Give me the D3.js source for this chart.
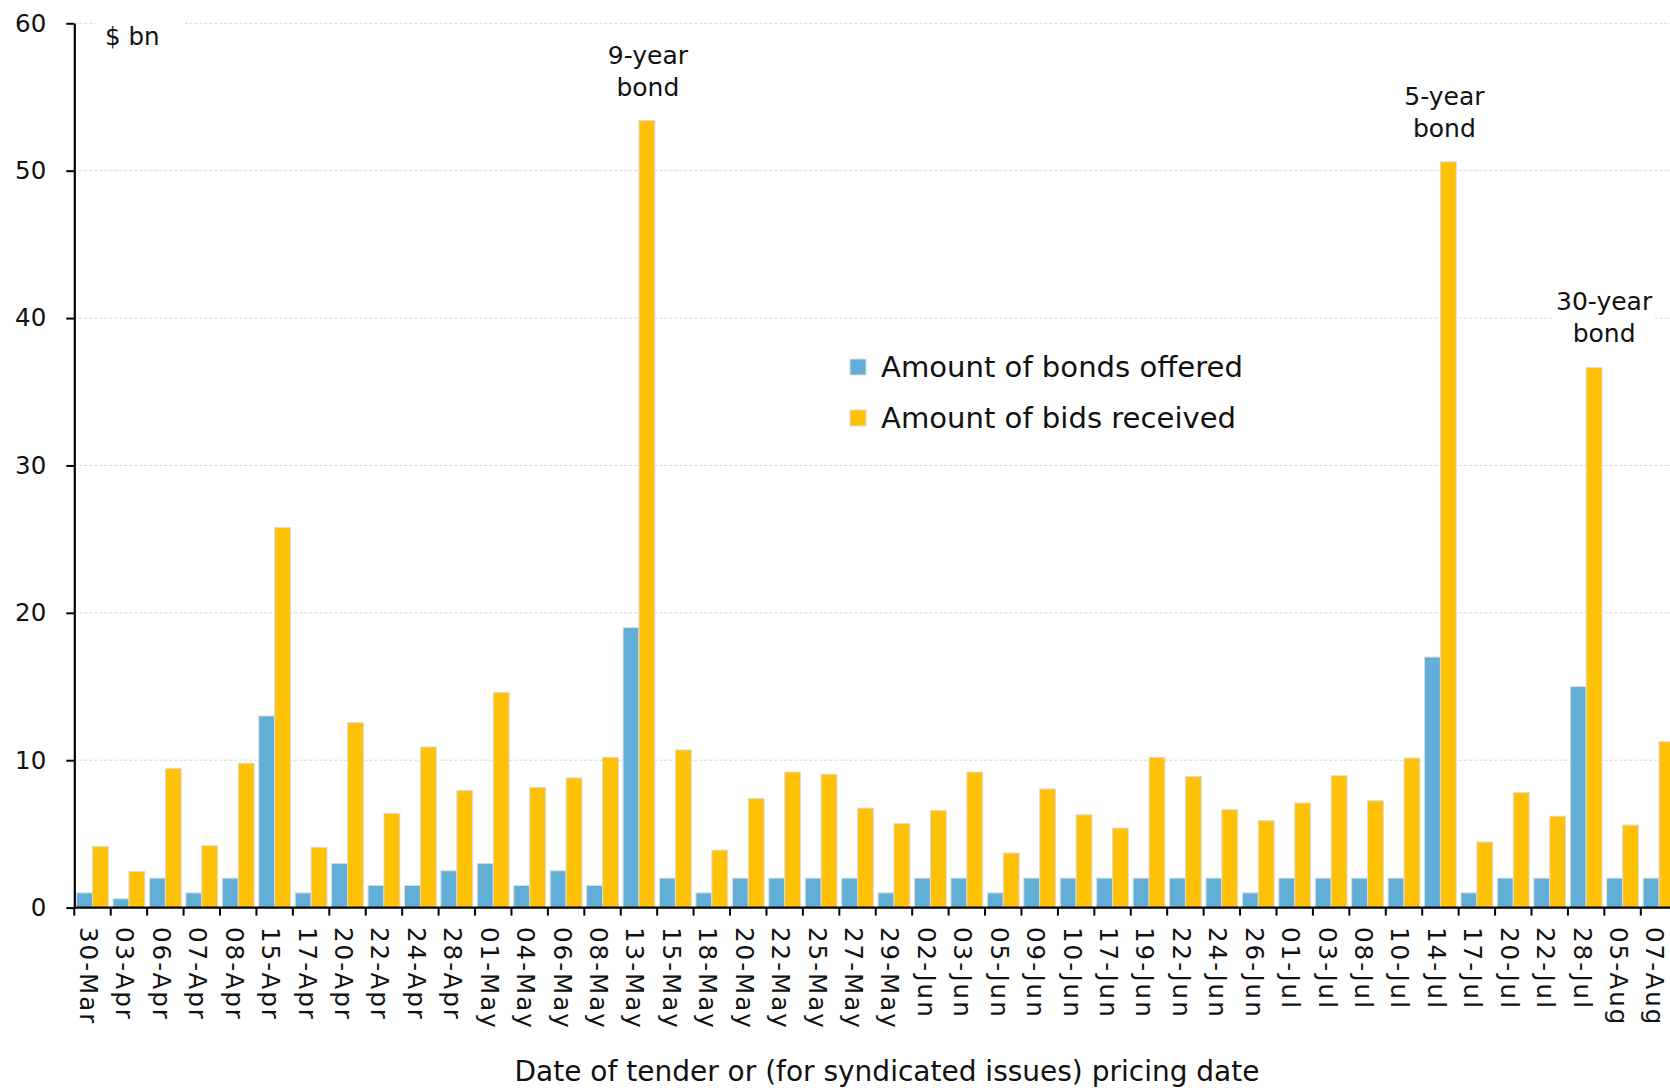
<!DOCTYPE html>
<html>
<head>
<meta charset="utf-8">
<script src="https://cdn.jsdelivr.net/npm/d3@7/dist/d3.min.js"></script>
<style>
  html, body { margin: 0; padding: 0; background: #fff; }
  svg { display: block; font-family: "DejaVu Sans", sans-serif; }
</style>
</head>
<body>
<svg id="chart" width="1670" height="1088"></svg>
<script>
// ---- data ----
const categories = ["30-Mar","03-Apr","06-Apr","07-Apr","08-Apr","15-Apr","17-Apr","20-Apr","22-Apr","24-Apr","28-Apr",
  "01-May","04-May","06-May","08-May","13-May","15-May","18-May","20-May","22-May","25-May","27-May","29-May",
  "02-Jun","03-Jun","05-Jun","09-Jun","10-Jun","17-Jun","19-Jun","22-Jun","24-Jun","26-Jun",
  "01-Jul","03-Jul","08-Jul","10-Jul","14-Jul","17-Jul","20-Jul","22-Jul","28-Jul","05-Aug","07-Aug"];
const bondsOffered = [1,0.6,2,1,2,13,1,3,1.5,1.5,2.5,
  3,1.5,2.5,1.5,19,2,1,2,2,2,2,1,
  2,2,1,2,2,2,2,2,2,1,
  2,2,2,2,17,1,2,2,15,2,2];
const bidsReceived = [4.15,2.45,9.45,4.2,9.8,25.8,4.1,12.55,6.4,10.9,7.95,
  14.6,8.15,8.8,10.2,53.4,10.7,3.9,7.4,9.2,9.05,6.75,5.7,
  6.6,9.2,3.7,8.05,6.3,5.4,10.2,8.9,6.65,5.9,
  7.1,8.95,7.25,10.15,50.6,4.45,7.8,6.2,36.65,5.6,11.25];
const seriesNames = ["Amount of bonds offered","Amount of bids received"];
const yTicks = [0,10,20,30,40,50,60];
const annotationCats = ["13-May","14-Jul","28-Jul"];
const annotationText = [["9-year","bond"],["5-year","bond"],["30-year","bond"]];
const yUnit = "$ bn";
const xTitle = "Date of tender or (for syndicated issues) pricing date";

// ---- layout ----
const colors = ["#61aed6","#fec106"];
const x0 = 74.3, step = 36.43;
const annShift = [1, -4, 10];
const svg = d3.select("#chart");

const x = d3.scaleBand().domain(categories)
  .range([x0, x0 + step * categories.length]).paddingInner(0).paddingOuter(0);
const xs = d3.scaleBand().domain([0,1]).range([0, x.bandwidth()])
  .paddingInner(0).paddingOuter(0.146);
const y = d3.scaleLinear().domain([0,60]).range([907.6, 23.3]);

// gridlines
svg.append("g").selectAll("line").data(yTicks.filter(d => d > 0)).join("line")
  .attr("x1", x0).attr("x2", 1670)
  .attr("y1", d => y(d)).attr("y2", d => y(d))
  .attr("stroke", "#d6d6d6").attr("stroke-width", 1)
  .attr("stroke-dasharray", "3,2");

// unit label with white background
const unitG = svg.append("g");
unitG.append("rect").attr("x", 95).attr("y", 8).attr("width", 90).attr("height", 44).attr("fill", "#fff");
unitG.append("text").attr("x", 105).attr("y", 45).attr("font-size", 24.5).attr("fill", "#111").text(yUnit);

// bars
const rows = categories.map((c, i) => ({cat: c, vals: [bondsOffered[i], bidsReceived[i]]}));
const groups = svg.append("g").selectAll("g").data(rows).join("g")
  .attr("transform", d => `translate(${x(d.cat)},0)`);
groups.selectAll("rect").data(d => d.vals.map((v, k) => ({k, v}))).join("rect")
  .attr("x", d => xs(d.k))
  .attr("width", xs.bandwidth())
  .attr("y", d => y(d.v))
  .attr("height", d => y(0) - y(d.v))
  .attr("fill", d => colors[d.k])
  .attr("stroke", "#dcdcdc").attr("stroke-width", 1);

// y axis
const yAxis = svg.append("g").attr("transform", `translate(${x0},0)`)
  .call(d3.axisLeft(y).tickValues(yTicks).tickSize(8).tickSizeOuter(0).tickPadding(20));
yAxis.select(".domain").attr("stroke", "#000").attr("stroke-width", 2.2);
yAxis.selectAll(".tick line").attr("stroke", "#000").attr("stroke-width", 2);
yAxis.selectAll(".tick text").attr("font-size", 24.5).attr("fill", "#111")
  .attr("font-family", "DejaVu Sans");

// x axis line
svg.append("line").attr("x1", x0).attr("x2", 1670).attr("y1", y(0)).attr("y2", y(0))
  .attr("stroke", "#000").attr("stroke-width", 2.4);
// x ticks at band boundaries
svg.append("g").selectAll("line").data(categories).join("line")
  .attr("x1", d => x(d)).attr("x2", d => x(d))
  .attr("y1", y(0)).attr("y2", y(0) + 8)
  .attr("stroke", "#000").attr("stroke-width", 2);
// x labels
svg.append("g").selectAll("text").data(categories).join("text")
  .attr("transform", d => `translate(${x(d) + x.bandwidth()/2 - 4},${927}) rotate(90)`)
  .attr("dy", "0.35em")
  .attr("font-size", 24.5).attr("letter-spacing", 2).attr("fill", "#111")
  .text(d => d);

// x title
svg.append("text").attr("x", 887).attr("y", 1081).attr("text-anchor", "middle")
  .attr("font-size", 28).attr("fill", "#111").text(xTitle);

// legend
const leg = svg.append("g");
seriesNames.forEach((name, i) => {
  const yy = 377 + i * 51;
  leg.append("rect").attr("x", 850).attr("y", yy - 18).attr("width", 16).attr("height", 16)
    .attr("fill", colors[i]).attr("stroke", "#dcdcdc").attr("stroke-width", 1);
  leg.append("text").attr("x", 881).attr("y", yy).attr("font-size", 29.1).attr("fill", "#111").text(name);
});

// annotations
annotationCats.forEach((c, i) => {
  const idx = categories.indexOf(c);
  const cx = x(c) + xs(1) + xs.bandwidth() / 2 + annShift[i];
  const top = y(bidsReceived[idx]);
  const g = svg.append("g");
  const t = g.append("text").attr("text-anchor", "middle").attr("font-size", 25).attr("fill", "#111");
  const lines = annotationText[i];
  lines.forEach((ln, j) => {
    t.append("tspan").attr("x", cx).attr("y", top - 25 - (lines.length - 1 - j) * 32).text(ln);
  });
  const bb = t.node().getBBox();
  g.insert("rect", "text").attr("x", bb.x - 2).attr("y", bb.y - 2)
    .attr("width", bb.width + 4).attr("height", bb.height + 4).attr("fill", "#fff");
});
</script>
</body>
</html>
